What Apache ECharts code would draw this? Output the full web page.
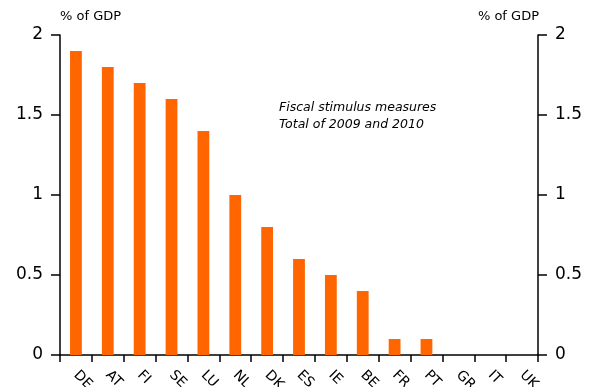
<!DOCTYPE html>
<html>
<head>
<meta charset="utf-8">
<script src="https://cdn.jsdelivr.net/npm/echarts@6/dist/echarts.min.js"></script>
<style>
  html, body { margin: 0; padding: 0; background: #fff; }
  #chart { width: 590px; height: 387px; }
</style>
</head>
<body>
<div id="chart"></div>
<script>
// 国家分类
const countries = ['DE', 'AT', 'FI', 'SE', 'LU', 'NL', 'DK', 'ES', 'IE', 'BE', 'FR', 'PT', 'GR', 'IT', 'UK'];
// 财政刺激措施 (% of GDP)
const stimulus = [1.9, 1.8, 1.7, 1.6, 1.4, 1.0, 0.8, 0.6, 0.5, 0.4, 0.1, 0.1, 0, 0, 0];
const yTicks = [0, 0.5, 1, 1.5, 2];

const font = 'DejaVu Sans, Verdana, sans-serif';
const myChart = echarts.init(document.getElementById('chart'));

const yAxisBase = {
  type: 'value',
  min: yTicks[0],
  max: yTicks[yTicks.length - 1],
  interval: 0.5,
  splitLine: { show: false },
  axisLine: { show: true, lineStyle: { color: '#000', width: 1.5 } },
  axisTick: { show: true, length: 9, lineStyle: { color: '#000', width: 1.5 } },
  axisLabel: { color: '#000', fontSize: 17, fontFamily: font, margin: 17 },
};

const option = {
  animation: false,
  backgroundColor: '#fff',
  title: [
    { text: '% of GDP', left: 60, top: 10, padding: 0, textStyle: { fontSize: 13, fontWeight: 'normal', color: '#000', fontFamily: font } },
    { text: '% of GDP', right: 51, top: 10, padding: 0, textStyle: { fontSize: 13, fontWeight: 'normal', color: '#000', fontFamily: font } },
  ],
  graphic: [
    {
      type: 'text',
      left: 279,
      top: 99,
      style: {
        text: 'Fiscal stimulus measures\nTotal of 2009 and 2010',
        font: 'italic 12.5px ' + font,
        fill: '#000',
        lineHeight: 17,
      },
    },
  ],
  grid: { left: 60, right: 52, top: 35, bottom: 32, outerBoundsMode: 'none', containLabel: false },
  xAxis: {
    type: 'category',
    data: countries,
    axisLine: { lineStyle: { color: '#000', width: 1.5 } },
    axisTick: { show: true, interval: 0, length: 7, lineStyle: { color: '#000', width: 1.5 } },
    axisLabel: { interval: 0, rotate: -45, color: '#000', fontSize: 14, fontFamily: font, margin: 18 },
  },
  yAxis: [
    Object.assign({}, yAxisBase, { position: 'left' }),
    Object.assign({}, yAxisBase, { position: 'right' }),
  ],
  series: [
    {
      name: 'stimulus',
      type: 'bar',
      data: stimulus,
      barWidth: '37%',
      itemStyle: { color: '#FF6600' },
      yAxisIndex: 0,
    },
  ],
};
myChart.setOption(option);
</script>
</body>
</html>
